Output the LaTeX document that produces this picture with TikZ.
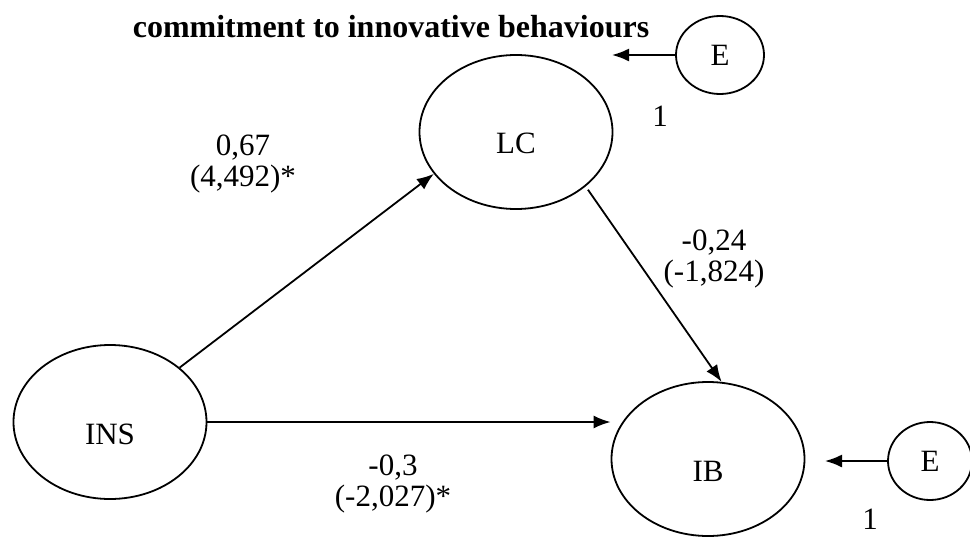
\documentclass[tikz,border=0pt]{standalone}
\usepackage{fontspec}
\setmainfont{Liberation Serif}
\usetikzlibrary{shapes.geometric,arrows.meta}
\begin{document}
\begin{tikzpicture}[x=1pt,y=-1pt,
  every node/.style={font=\fontsize{31}{31}\selectfont},
  lat/.style={draw,ellipse,line width=1.8pt,inner sep=0pt,minimum width=193pt,minimum height=154pt},
  err/.style={draw,ellipse,line width=1.8pt,inner sep=0pt,minimum width=88pt,minimum height=78pt},
  path/.style={line width=1.8pt,-{Latex[length=17pt,width=13pt]}},
  lbl/.style={align=center,inner sep=0pt}
]
\useasboundingbox (0,0) rectangle (970,536);
% title
\node[inner sep=0pt,font=\fontsize{32}{36}\bfseries] (title) at (391,27) {commitment to innovative behaviours};
% latent variables
\node[lat] (LC) at (516,132) {};
\node[inner sep=0pt] (LCt) at (516,143) {LC};
\node[lat] (INS) at (110,422) {};
\node[inner sep=0pt] (INSt) at (110,434) {INS};
\node[lat] (IB) at (708,459) {};
\node[inner sep=0pt] (IBt) at (708,471) {IB};
% error terms
\node[err] (E1) at (720,55) {E};
\node[err,minimum width=84pt] (E2) at (930,461) {E};
\coordinate (E1tip) at (612,55);
\coordinate (E2tip) at (825,461);
% paths
\draw[path] (INS.38) -- (LC.207);
\draw[path,shorten <=4pt] (LC.-38) -- (IB.80);
\draw[path] (INS.east) -- (INS.east -| IB.west);
\draw[path] (E1.west) -- (E1tip);
\draw[path] (E2.west) -- (E2tip);
% labels
\node[lbl] (l1) at (243,164) {0,67\\(4,492)*};
\node[lbl] (l2) at (714,259) {-0,24\\(-1,824)};
\node[lbl] (l3) at (393,484) {-0,3\\(-2,027)*};
\node[inner sep=0pt] (one1) at (660,116) {1};
\node[inner sep=0pt] (one2) at (870,519) {1};
\end{tikzpicture}
\end{document}
